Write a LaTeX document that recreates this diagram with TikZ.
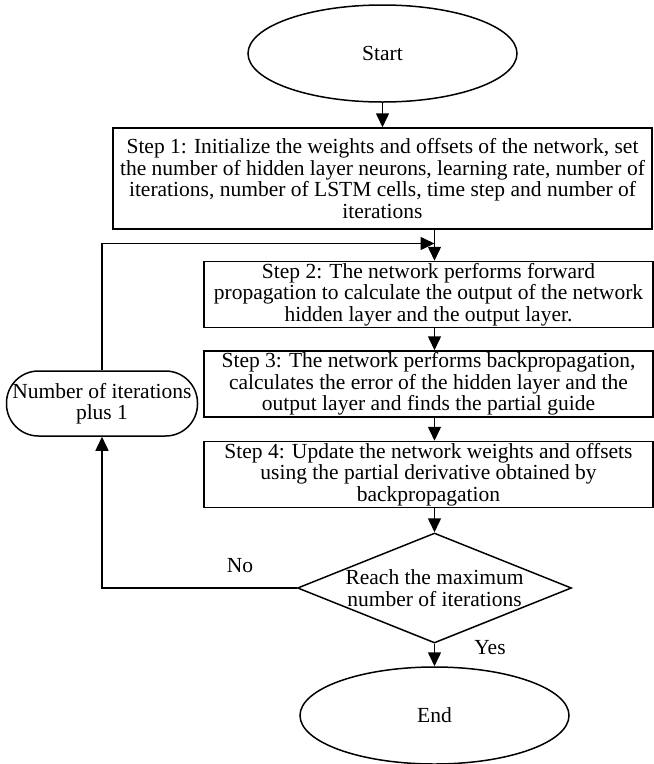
\documentclass[tikz,border=0pt]{standalone}
\usepackage{fontspec}
\setmainfont{Liberation Serif}
\usetikzlibrary{shapes.geometric,arrows.meta}
\begin{document}
\begin{tikzpicture}[x=1pt,y=-1pt,
  every node/.style={font=\fontsize{21.5}{21.5}\selectfont},
  ln/.style={line width=1.5pt},
  arr/.style={ln,-{Triangle[length=14pt,width=13pt]}},
  box/.style={draw,ln,rectangle,inner sep=0pt,align=center,minimum width=449pt,minimum height=66pt},
  oval/.style={draw,ln,ellipse,inner sep=0pt,minimum width=269pt,minimum height=97pt},
  pillbox/.style={draw,ln,rectangle,rounded corners=32pt,inner sep=0pt,align=center,minimum width=191pt,minimum height=65pt},
  decide/.style={draw,ln,diamond,aspect=2.5,inner sep=-5pt,align=center,minimum width=274pt,minimum height=110pt}
]
\useasboundingbox (0,0) rectangle (654,764);
\node[oval] (start) at (382.5,53.5) {Start};
\node[box,minimum width=539pt,minimum height=101pt] (s1) at (382.5,178.5)
  {Step 1: Initialize the weights and offsets of the network, set\\
   the number of hidden layer neurons, learning rate, number of\\
   iterations, number of LSTM cells, time step and number of\\
   iterations};
\node[box] (s2) at (428.5,294.5) {Step 2: The network performs forward\\
   propagation to calculate the output of the network\\
   hidden layer and the output layer.};
\node[box] (s3) at (428.5,384) {Step 3: The network performs backpropagation,\\
   calculates the error of the hidden layer and the\\
   output layer and finds the partial guide};
\node[box] (s4) at (428.5,474.5) {Step 4: Update the network weights and offsets\\
   using the partial derivative obtained by\\
   backpropagation};
\node[decide] (d) at (434.5,588) {Reach the maximum\\number of iterations};
\node[oval] (end) at (434.5,715.5) {End};
\node[pillbox] (pill) at (102,403.5) {Number of iterations\\plus 1};
\node (no) at (240,566) {No};
\node (yes) at (490,648) {Yes};
\coordinate (j) at (434.5,243.5);

\draw[arr] (start) -- (s1);
\draw[arr] (s1.south -| d.north) -- (s2.north -| d.north);
\draw[arr] (s2.south -| d.north) -- (s3.north -| d.north);
\draw[arr] (s3.south -| d.north) -- (s4.north -| d.north);
\draw[arr] (s4.south -| d.north) -- (d.north);
\draw[arr] (d.south) -- (end.north);
\draw[arr] (d.west) -| (pill.south);
\draw[arr] (pill.north) |- (j);
\end{tikzpicture}
\end{document}
